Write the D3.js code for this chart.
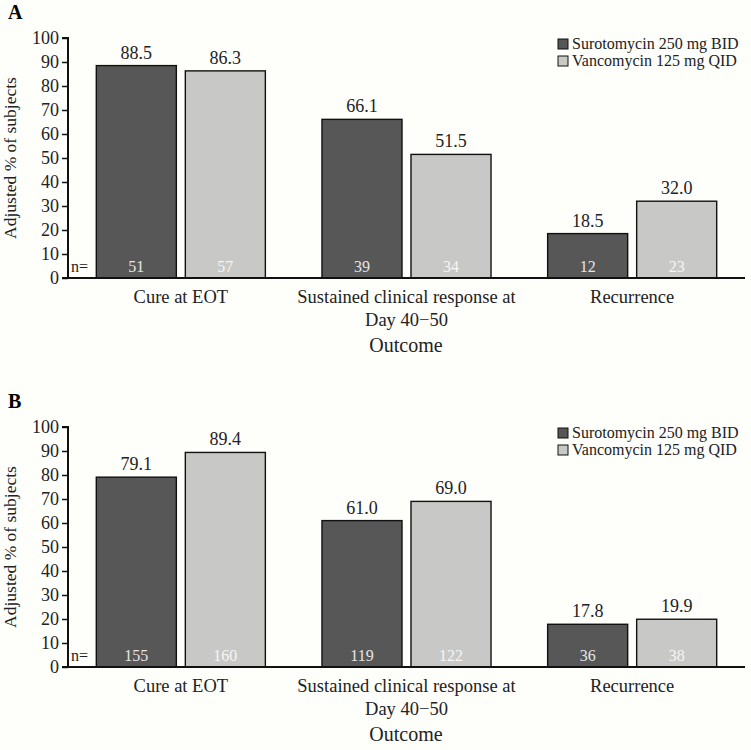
<!DOCTYPE html>
<html>
<head>
<meta charset="utf-8">
<script src="https://cdn.jsdelivr.net/npm/d3@7"></script>
<style>
  body { margin: 0; background: #fefefb; }
  svg { display: block; }
  svg text { font-family: "Liberation Serif", "Times New Roman", serif; }
</style>
</head>
<body>
<script>
// data
const categories = ["Cure at EOT", "Sustained clinical response at|Day 40\u221250", "Recurrence"];
const seriesNames = ["Surotomycin 250 mg BID", "Vancomycin 125 mg QID"];
const panelA_suro = [88.5, 66.1, 18.5];
const panelA_vanco = [86.3, 51.5, 32.0];
const panelA_nSuro = [51, 39, 12];
const panelA_nVanco = [57, 34, 23];
const panelB_suro = [79.1, 61.0, 17.8];
const panelB_vanco = [89.4, 69.0, 19.9];
const panelB_nSuro = [155, 119, 36];
const panelB_nVanco = [160, 122, 38];
const yTicks = [0, 10, 20, 30, 40, 50, 60, 70, 80, 90, 100];

const width = 751, height = 750;
const colors = ["#575757", "#c8c8c6"];

const svg = d3.select("body").append("svg")
  .attr("width", width).attr("height", height);

const xScale = d3.scaleBand()
  .domain(categories)
  .range([68, 745])
  .paddingInner(0).paddingOuter(0);

// pair of bars inside each category band
const inner = d3.scaleBand().domain([0, 1])
  .range([0, xScale.bandwidth()]).paddingInner(0.101).paddingOuter(0.318);

function drawPanel(letter, top, suro, vanco, nSuro, nVanco) {
  const y0 = top + 240, y100 = top;
  const yScale = d3.scaleLinear().domain([0, 100]).range([y0, y100]);
  const g = svg.append("g");

  // panel letter
  g.append("text").attr("x", 8).attr("y", top - 19)
    .attr("font-weight", "bold").attr("font-size", 20).text(letter);

  const rows = [];
  categories.forEach((c, i) => {
    rows.push({c, s: 0, v: suro[i], n: nSuro[i]});
    rows.push({c, s: 1, v: vanco[i], n: nVanco[i]});
  });

  g.selectAll("rect.bar").data(rows).enter().append("rect")
    .attr("x", d => xScale(d.c) + inner(d.s))
    .attr("y", d => yScale(d.v))
    .attr("width", inner.bandwidth())
    .attr("height", d => y0 - yScale(d.v))
    .attr("fill", d => colors[d.s])
    .attr("stroke", "#111").attr("stroke-width", 1.4);

  // value labels
  g.selectAll("text.val").data(rows).enter().append("text")
    .attr("x", d => xScale(d.c) + inner(d.s) + inner.bandwidth() / 2)
    .attr("y", d => yScale(d.v) - 7)
    .attr("text-anchor", "middle").attr("font-size", 18).attr("fill", "#222")
    .text(d => d.v.toFixed(1));

  // n labels
  g.selectAll("text.n").data(rows).enter().append("text")
    .attr("x", d => xScale(d.c) + inner(d.s) + inner.bandwidth() / 2)
    .attr("y", y0 - 6)
    .attr("text-anchor", "middle").attr("font-size", 16)
    .attr("fill", d => d.s === 0 ? "#e6e6e6" : "#f6f6f6")
    .text(d => d.n);
  g.append("text").attr("x", 71).attr("y", y0 - 6)
    .attr("font-size", 16).attr("fill", "#222").text("n=");

  // axes
  const leftAxis = d3.axisLeft(yScale).tickValues(yTicks).tickSize(6).tickPadding(3);
  const ax = g.append("g").attr("transform", "translate(68,0)").call(leftAxis);
  ax.attr("font-family", null);
  ax.select(".domain").attr("stroke", "#111").attr("stroke-width", 2).attr("d", `M-6,${y100}H0V${y0}`);
  ax.selectAll(".tick line").attr("stroke", "#111").attr("stroke-width", 1.5);
  ax.selectAll(".tick text").attr("font-size", 18).attr("fill", "#222");

  g.append("line").attr("x1", 62).attr("x2", 745).attr("y1", y0).attr("y2", y0)
    .attr("stroke", "#111").attr("stroke-width", 2);

  // category labels
  categories.forEach(c => {
    c.split("|").forEach((t, j) => {
      g.append("text")
        .attr("x", xScale(c) + xScale.bandwidth() / 2)
        .attr("y", y0 + 25 + j * 23)
        .attr("text-anchor", "middle").attr("font-size", 18.5).attr("fill", "#222")
        .text(t);
    });
  });

  g.append("text").attr("x", 406).attr("y", y0 + 74)
    .attr("text-anchor", "middle").attr("font-size", 20).attr("fill", "#222").text("Outcome");

  g.append("text")
    .attr("transform", `translate(16,${(y0 + y100) / 2}) rotate(-90)`)
    .attr("text-anchor", "middle").attr("font-size", 17.5).attr("fill", "#222")
    .text("Adjusted % of subjects");

  // legend
  seriesNames.forEach((s, i) => {
    g.append("rect").attr("x", 558).attr("y", top + 1 + i * 17)
      .attr("width", 10).attr("height", 10)
      .attr("fill", colors[i]).attr("stroke", "#111").attr("stroke-width", 1);
    g.append("text").attr("x", 572).attr("y", top + 11 + i * 17)
      .attr("font-size", 16).attr("fill", "#222").text(s);
  });
}

drawPanel("A", 38, panelA_suro, panelA_vanco, panelA_nSuro, panelA_nVanco);
drawPanel("B", 427, panelB_suro, panelB_vanco, panelB_nSuro, panelB_nVanco);
</script>
</body>
</html>
